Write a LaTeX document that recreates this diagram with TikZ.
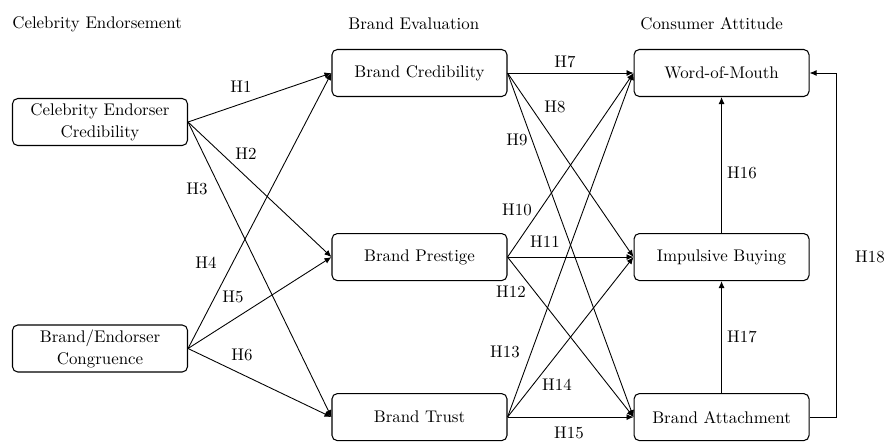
\documentclass[tikz,border=0pt]{standalone}
\usetikzlibrary{arrows.meta, positioning}
\tikzset{
  cbox/.style ={rectangle, rounded corners=3pt, draw=black, line width=0.6pt, fill=white,
                align=center, inner sep=1pt, minimum width=3.5cm, minimum height=0.94cm,
                font=\fontsize{9.6}{12.5}\selectfont},
  chead/.style={anchor=west, inner sep=0pt, font=\fontsize{9.6}{12.5}\selectfont},
  harr/.style ={-{Latex[length=1.4mm,width=1.2mm]}, line width=0.5pt, color=black},
  hlbl/.style ={inner sep=1pt, font=\fontsize{9.6}{12.5}\selectfont},
}
\begin{document}
\begin{tikzpicture}
  \useasboundingbox (0,0) rectangle (17.74,-8.82);
  \node[chead] (t1) at (0.24,-0.48) {Celebrity Endorsement};
  \node[chead] (t2) at (6.96,-0.48) {Brand Evaluation};
  \node[chead] (t3) at (12.8,-0.48) {Consumer Attitude};

  \node[cbox] (bcr) at (8.39,-1.46) {Brand Credibility};
  \node[cbox, below=2.72cm of bcr] (bpr) {Brand Prestige};
  \node[cbox, below=2.24cm of bpr] (btr) {Brand Trust};
  \node[cbox, right=2.52cm of bcr] (wom) {Word-of-Mouth};
  \node[cbox, right=2.52cm of bpr] (imp) {Impulsive Buying};
  \node[cbox, right=2.52cm of btr] (bat) {Brand Attachment};
  \node[cbox] (cec) at (2.0,-2.44) {Celebrity Endorser\\Credibility};
  \node[cbox] (bec) at (2.0,-6.97) {Brand/Endorser\\Congruence};

  \draw[harr] (cec.east) -- (bcr.west); \draw[harr] (cec.east) -- (bpr.west); \draw[harr] (cec.east) -- (btr.west);
  \draw[harr] (bec.east) -- (bcr.west); \draw[harr] (bec.east) -- (bpr.west); \draw[harr] (bec.east) -- (btr.west);
  \draw[harr] (bcr.east) -- (wom.west); \draw[harr] (bcr.east) -- (imp.west); \draw[harr] (bcr.east) -- (bat.west);
  \draw[harr] (bpr.east) -- (wom.west); \draw[harr] (bpr.east) -- (imp.west); \draw[harr] (bpr.east) -- (bat.west);
  \draw[harr] (btr.east) -- (wom.west); \draw[harr] (btr.east) -- (imp.west); \draw[harr] (btr.east) -- (bat.west);
  \draw[harr] (imp.north) -- (wom.south); \draw[harr] (bat.north) -- (imp.south);
  \draw[harr] (bat.east) -- ++(0.54,0) |- (wom.east);

  \node[hlbl] (h1) at (4.82,-1.74) {H1};
  \node[hlbl] (h2) at (4.92,-3.08) {H2};
  \node[hlbl] (h3) at (3.94,-3.78) {H3};
  \node[hlbl] (h4) at (4.12,-5.26) {H4};
  \node[hlbl] (h5) at (4.66,-5.94) {H5};
  \node[hlbl] (h6) at (4.84,-7.10) {H6};
  \node[hlbl] (h7) at (11.3,-1.24) {H7};
  \node[hlbl] (h8) at (11.1,-2.14) {H8};
  \node[hlbl] (h9) at (10.34,-2.8) {H9};
  \node[hlbl] (h10) at (10.34,-4.2) {H10};
  \node[hlbl] (h11) at (10.9,-4.84) {H11};
  \node[hlbl] (h12) at (10.22,-5.84) {H12};
  \node[hlbl] (h13) at (10.1,-7.04) {H13};
  \node[hlbl] (h14) at (11.14,-7.7) {H14};
  \node[hlbl] (h15) at (11.38,-8.66) {H15};
  \node[hlbl] (h16) at (14.84,-3.46) {H16};
  \node[hlbl] (h17) at (14.84,-6.74) {H17};
  \node[hlbl] (h18) at (17.4,-5.14) {H18};
\end{tikzpicture}
\end{document}
